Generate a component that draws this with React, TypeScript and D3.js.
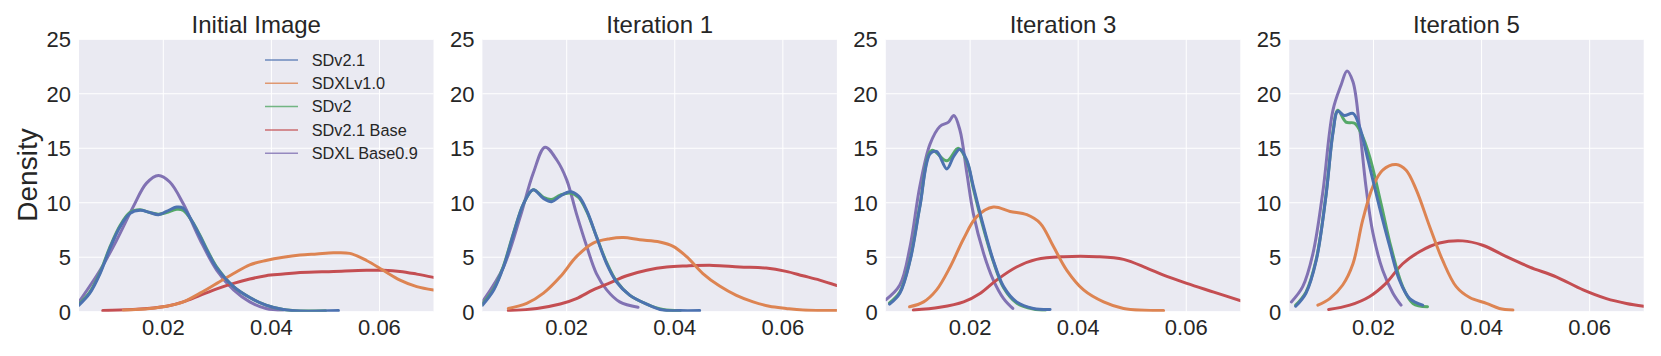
import React from 'react';
import * as d3 from 'd3';

type Pt = [number, number];

const panelTitles = ['Initial Image', 'Iteration 1', 'Iteration 3', 'Iteration 5'];
const seriesNames = ['SDv2.1', 'SDXLv1.0', 'SDv2', 'SDv2.1 Base', 'SDXL Base0.9'];
const seriesColors = ['#4C72B0', '#DD8452', '#55A868', '#C44E52', '#8172B3'];
// draw order (last on top)
const drawOrder = [4, 3, 2, 1, 0];
const yTicks = [0, 5, 10, 15, 20, 25];
const xTicks = [0.02, 0.04, 0.06];

// curves per panel, in series order: SDv2.1, SDXLv1.0, SDv2, SDv2.1 Base, SDXL Base0.9
const initialCurves: Pt[][] = [
  [[0.0044, 0.6], [0.0064, 1.7], [0.0083, 3.5], [0.0101, 5.8], [0.012, 7.8], [0.0138, 9.0], [0.0157, 9.3], [0.0175, 9.1], [0.0191, 8.9], [0.0206, 9.2], [0.0225, 9.6], [0.0237, 9.5], [0.0252, 8.4], [0.0268, 6.9], [0.0283, 5.4], [0.0299, 4.0], [0.033, 2.3], [0.036, 1.3], [0.039, 0.6], [0.0422, 0.2], [0.0453, 0.06], [0.0524, 0.1]],
  [[0.0126, 0.15], [0.0175, 0.3], [0.0206, 0.5], [0.0237, 0.9], [0.0268, 1.7], [0.0299, 2.6], [0.033, 3.5], [0.036, 4.3], [0.039, 4.7], [0.0422, 5.0], [0.0453, 5.2], [0.0484, 5.3], [0.0515, 5.4], [0.0545, 5.35], [0.0576, 4.7], [0.0607, 3.8], [0.0638, 2.9], [0.0669, 2.3], [0.07, 2.0]],
  [[0.0044, 0.7], [0.0064, 1.8], [0.0083, 3.6], [0.0101, 5.9], [0.012, 7.9], [0.0138, 9.1], [0.0157, 9.35], [0.0175, 9.1], [0.0191, 8.95], [0.0206, 9.1], [0.0225, 9.4], [0.0237, 9.3], [0.0252, 8.4], [0.0268, 7.0], [0.0283, 5.5], [0.0299, 4.1], [0.033, 2.3], [0.036, 1.3], [0.039, 0.6], [0.0422, 0.2], [0.0453, 0.07], [0.05, 0.08]],
  [[0.0088, 0.1], [0.0144, 0.2], [0.0206, 0.5], [0.0237, 0.9], [0.0268, 1.5], [0.0299, 2.1], [0.033, 2.6], [0.036, 3.0], [0.039, 3.3], [0.0422, 3.45], [0.0453, 3.6], [0.0515, 3.7], [0.0576, 3.8], [0.0607, 3.8], [0.0638, 3.7], [0.0669, 3.45], [0.07, 3.15]],
  [[0.0044, 0.9], [0.0083, 3.8], [0.0114, 6.6], [0.0144, 9.6], [0.0169, 11.8], [0.0191, 12.5], [0.0212, 11.9], [0.0237, 9.9], [0.0268, 6.6], [0.0299, 3.8], [0.033, 2.0], [0.036, 0.9], [0.039, 0.3], [0.0422, 0.15]],
];

const iter1Curves: Pt[][] = [
  [[0.0044, 0.6], [0.0065, 2.0], [0.0083, 4.1], [0.0102, 7.2], [0.012, 9.9], [0.0138, 11.2], [0.0157, 10.4], [0.0172, 10.1], [0.0188, 10.6], [0.0206, 11.0], [0.0222, 10.6], [0.0237, 9.3], [0.0255, 6.9], [0.0274, 4.4], [0.0292, 2.75], [0.0317, 1.5], [0.0348, 0.7], [0.0378, 0.15], [0.0409, 0.1], [0.0446, 0.1]],
  [[0.0092, 0.3], [0.0126, 0.76], [0.0157, 1.7], [0.0188, 3.2], [0.0218, 5.05], [0.0249, 6.3], [0.028, 6.7], [0.0305, 6.8], [0.0335, 6.6], [0.0372, 6.4], [0.0397, 6.0], [0.0422, 5.05], [0.0452, 3.5], [0.0483, 2.35], [0.0514, 1.5], [0.0545, 0.9], [0.0575, 0.5], [0.0606, 0.3], [0.0637, 0.15], [0.07, 0.1]],
  [[0.0044, 0.7], [0.0065, 2.1], [0.0083, 4.2], [0.0102, 7.3], [0.012, 9.9], [0.0138, 11.2], [0.0157, 10.5], [0.0172, 10.3], [0.0188, 10.7], [0.0206, 10.9], [0.0222, 10.5], [0.0237, 9.2], [0.0255, 6.9], [0.0274, 4.5], [0.0292, 2.8], [0.0317, 1.5], [0.0348, 0.7], [0.0378, 0.2], [0.041, 0.1]],
  [[0.0092, 0.1], [0.0145, 0.3], [0.0188, 0.7], [0.0218, 1.2], [0.0249, 2.0], [0.028, 2.65], [0.0311, 3.3], [0.0348, 3.8], [0.0385, 4.1], [0.0422, 4.2], [0.0471, 4.25], [0.052, 4.1], [0.0569, 4.0], [0.0606, 3.7], [0.0637, 3.3], [0.0668, 2.9], [0.07, 2.4]],
  [[0.0044, 0.9], [0.0083, 4.1], [0.0114, 8.7], [0.0138, 12.7], [0.016, 15.1], [0.0182, 13.9], [0.02, 12.1], [0.0218, 9.0], [0.0237, 6.0], [0.0255, 3.5], [0.0274, 2.0], [0.0298, 0.9], [0.0332, 0.4]],
];

const iter3Curves: Pt[][] = [
  [[0.0051, 0.7], [0.007, 1.7], [0.0089, 4.7], [0.0107, 9.6], [0.0126, 14.5], [0.0138, 14.7], [0.0157, 13.1], [0.0169, 14.2], [0.0181, 14.9], [0.0194, 13.9], [0.0206, 11.5], [0.0225, 7.8], [0.0243, 4.7], [0.0262, 2.3], [0.0286, 0.9], [0.0317, 0.3], [0.0348, 0.2]],
  [[0.0088, 0.45], [0.0114, 0.9], [0.0138, 2.0], [0.0163, 4.1], [0.0188, 6.7], [0.0212, 8.7], [0.0243, 9.6], [0.0274, 9.2], [0.0305, 8.9], [0.033, 8.1], [0.0354, 6.0], [0.0379, 3.8], [0.041, 2.0], [0.0447, 0.9], [0.0484, 0.3], [0.0558, 0.1]],
  [[0.0051, 0.8], [0.007, 1.8], [0.0089, 4.8], [0.0107, 9.7], [0.0129, 14.8], [0.0157, 13.85], [0.0178, 15.0], [0.0194, 13.8], [0.0206, 11.3], [0.0225, 7.6], [0.0243, 4.6], [0.0262, 2.2], [0.0286, 0.8], [0.0317, 0.25], [0.034, 0.15]],
  [[0.0095, 0.15], [0.0144, 0.4], [0.0188, 0.9], [0.0219, 1.7], [0.0249, 2.9], [0.0286, 4.1], [0.0323, 4.8], [0.0373, 5.05], [0.0435, 5.05], [0.0484, 4.8], [0.0527, 4.0], [0.0558, 3.35], [0.0601, 2.6], [0.0651, 1.8], [0.0701, 1.0]],
  [[0.0044, 1.1], [0.007, 2.45], [0.0089, 6.0], [0.0107, 11.5], [0.0126, 15.4], [0.0144, 17.0], [0.016, 17.4], [0.017, 18.0], [0.0181, 16.7], [0.0194, 12.7], [0.0206, 9.0], [0.0225, 5.35], [0.0243, 2.9], [0.0262, 1.2], [0.0279, 0.3]],
];

const iter5Curves: Pt[][] = [
  [[0.0056, 0.5], [0.0075, 1.7], [0.0094, 4.7], [0.0112, 10.6], [0.0125, 16.4], [0.0134, 18.4], [0.0146, 18.0], [0.0162, 18.2], [0.0174, 17.0], [0.019, 13.9], [0.0211, 9.6], [0.023, 6.0], [0.0248, 2.9], [0.0267, 1.2], [0.0291, 0.6]],
  [[0.0097, 0.6], [0.0119, 1.2], [0.0143, 2.45], [0.0162, 4.4], [0.018, 8.4], [0.0199, 11.5], [0.0217, 13.0], [0.0242, 13.5], [0.026, 13.0], [0.0279, 11.2], [0.0304, 7.8], [0.0328, 4.7], [0.0353, 2.3], [0.0378, 1.3], [0.0409, 0.76], [0.0433, 0.3], [0.0458, 0.15]],
  [[0.0056, 0.6], [0.0075, 1.8], [0.0094, 4.8], [0.0112, 10.7], [0.0125, 16.5], [0.0134, 18.5], [0.0149, 17.4], [0.0165, 17.3], [0.0177, 16.4], [0.0193, 14.2], [0.0214, 9.9], [0.0233, 5.8], [0.0254, 2.3], [0.0273, 0.76], [0.03, 0.45]],
  [[0.0117, 0.2], [0.0156, 0.6], [0.0193, 1.4], [0.0223, 2.6], [0.0254, 4.4], [0.0285, 5.5], [0.0322, 6.3], [0.0365, 6.5], [0.0402, 6.1], [0.0446, 5.05], [0.0489, 4.1], [0.0538, 3.2], [0.0588, 2.0], [0.0631, 1.2], [0.0668, 0.76], [0.07, 0.5]],
  [[0.0048, 0.9], [0.0069, 2.3], [0.0088, 5.35], [0.0106, 10.9], [0.0125, 18.5], [0.014, 20.8], [0.0151, 22.1], [0.0162, 21.1], [0.0174, 17.0], [0.0186, 11.5], [0.0199, 7.2], [0.0217, 3.8], [0.0236, 1.7], [0.0251, 0.6]],
];

const panels = [initialCurves, iter1Curves, iter3Curves, iter5Curves];

const W = 1661;
const H = 356;
const plotTop = 39.3;
const plotBottom = 311.7;
const plotW = 354.5;
const firstLeft = 79;
const panelStep = 403.4;
const font = '"Liberation Sans", Arial, Helvetica, sans-serif';
const textColor = '#262626';

const App = () => {
  const y = d3.scaleLinear().domain([0, 25]).range([plotBottom, plotTop]);

  return (
    <svg width={W} height={H} style={{ position: 'absolute', left: 0, top: 0, background: '#fff' }} fontFamily={font}>
      <defs>
        {panels.map((_, i) => (
          <clipPath id={`clip${i}`} key={i}>
            <rect x={firstLeft + i * panelStep} y={plotTop} width={plotW} height={plotBottom - plotTop} />
          </clipPath>
        ))}
      </defs>
      {panels.map((curves, i) => {
        const left = firstLeft + i * panelStep;
        const x = d3.scaleLinear().domain([0.0044, 0.07]).range([left, left + plotW]);
        const line = d3
          .line<Pt>()
          .x(d => x(d[0]))
          .y(d => y(d[1]))
          .curve(d3.curveCatmullRom.alpha(0.5));
        return (
          <g key={i}>
            <rect x={left} y={plotTop} width={plotW} height={plotBottom - plotTop} fill="#EAEAF2" />
            {yTicks.map(t => (
              <line key={`gy${t}`} x1={left} x2={left + plotW} y1={y(t)} y2={y(t)} stroke="#fff" strokeWidth={1} />
            ))}
            {xTicks.map(t => (
              <line key={`gx${t}`} x1={x(t)} x2={x(t)} y1={plotTop} y2={plotBottom} stroke="#fff" strokeWidth={1} />
            ))}
            <g clipPath={`url(#clip${i})`}>
              {drawOrder.map(s => (
                <path
                  key={s}
                  d={line(curves[s]) || ''}
                  fill="none"
                  stroke={seriesColors[s]}
                  strokeWidth={3}
                  strokeLinecap="round"
                  strokeLinejoin="round"
                />
              ))}
            </g>
            {yTicks.map(t => (
              <text key={`ty${t}`} x={left - 8} y={y(t)} dy="0.36em" textAnchor="end" fontSize={22} fill={textColor}>
                {t}
              </text>
            ))}
            {xTicks.map(t => (
              <text key={`tx${t}`} x={x(t)} y={plotBottom + 23.5} textAnchor="middle" fontSize={22} fill={textColor}>
                {d3.format('.2f')(t)}
              </text>
            ))}
            <text x={left + plotW / 2} y={33} textAnchor="middle" fontSize={24} fill={textColor}>
              {panelTitles[i]}
            </text>
          </g>
        );
      })}
      <text transform={`translate(37,175) rotate(-90)`} textAnchor="middle" fontSize={28} fill={textColor}>
        Density
      </text>
      <g transform="translate(265,60)">
        {seriesNames.map((name, s) => (
          <g key={name} transform={`translate(0,${s * 23.3})`}>
            <line x1={0} x2={33} y1={0} y2={0} stroke={seriesColors[s]} strokeWidth={1.5} opacity={0.8} />
            <text x={46.7} y={0} dy="0.36em" fontSize={16.3} fill={textColor}>
              {name}
            </text>
          </g>
        ))}
      </g>
    </svg>
  );
};

export default App;
